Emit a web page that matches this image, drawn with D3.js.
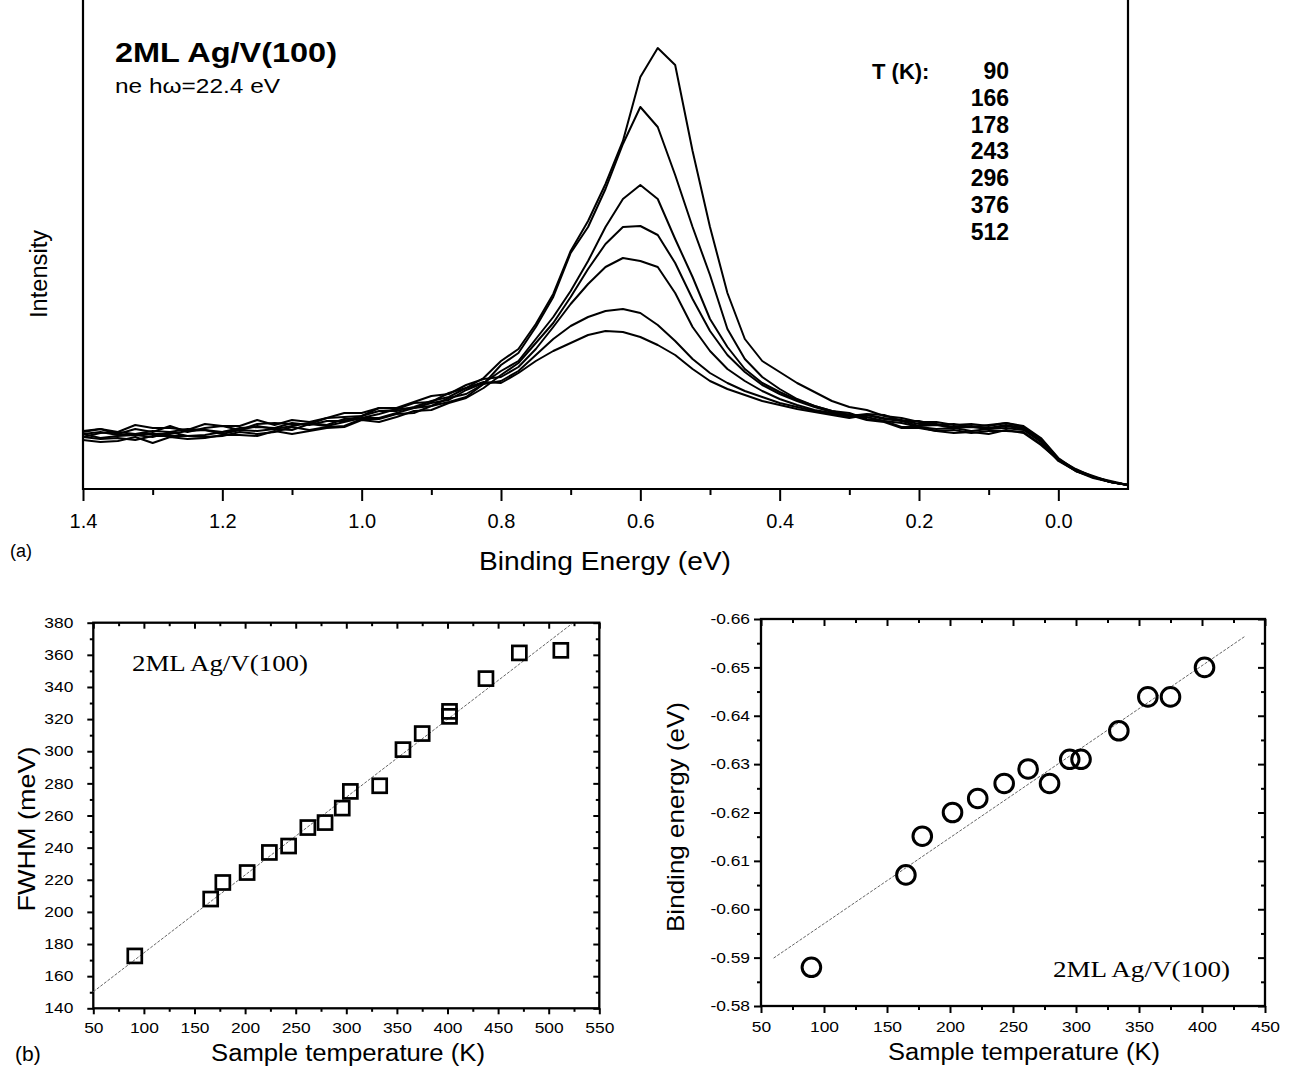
<!DOCTYPE html>
<html>
<head>
<meta charset="utf-8">
<script src="https://cdn.jsdelivr.net/npm/d3@7"></script>
<style>
  body { margin: 0; background: #fff; }
  svg { display: block; }
  text { font-family: Arial, "Liberation Sans", Helvetica, sans-serif; fill: #000; }
  .serif { font-family: "Times New Roman", "Liberation Serif", serif; }
</style>
</head>
<body>
<svg id="fig" width="1293" height="1071"></svg>
<script>
// ---------- data ----------
// (a) photoemission spectra, binding energy grid (eV)
var energyGrid = [1.4, 1.375, 1.35, 1.325, 1.3, 1.275, 1.25, 1.225, 1.2, 1.175, 1.15, 1.125, 1.1, 1.075, 1.05, 1.025,
    1.0, 0.975, 0.95, 0.925, 0.9, 0.875, 0.85, 0.825, 0.8, 0.775, 0.75, 0.725, 0.7, 0.675, 0.65, 0.625,
    0.6, 0.575, 0.55, 0.525, 0.5, 0.475, 0.45, 0.425, 0.4, 0.375, 0.35, 0.325, 0.3, 0.275, 0.25, 0.225,
    0.2, 0.175, 0.15, 0.125, 0.1, 0.075, 0.05, 0.025, 0.0, -0.025, -0.05, -0.075, -0.1];

// intensity (arb. units) for each temperature, noise included as read
var spec90 = [57, 60, 55, 60, 57, 63, 57, 61, 63, 59, 65, 66, 65, 65, 71, 72, 73, 81, 80, 86, 87, 96, 101, 111,
    128, 140, 165, 195, 238, 268, 305, 348, 412, 441, 424, 338, 262, 196, 150, 128, 117, 106, 97, 88, 82,
    79, 73, 71, 67, 67, 64, 65, 63, 66, 63, 51, 31, 19, 12, 7, 4];
var spec166 = [52, 50, 51, 49, 53, 53, 53, 52, 53, 57, 55, 57, 62, 59, 62, 63, 70, 70, 75, 76, 83, 87, 92, 105,
    124, 136, 162, 192, 236, 262, 300, 345, 382, 362, 314, 262, 214, 160, 130, 112, 100, 90, 83, 78, 76,
    70, 68, 62, 62, 58, 59, 56, 58, 58, 57, 45, 29, 18, 12, 7, 4];
var spec178 = [52, 56, 57, 55, 55, 55, 58, 59, 55, 59, 63, 60, 63, 66, 64, 70, 71, 75, 80, 81, 86, 89, 99, 106,
    118, 128, 150, 172, 198, 228, 262, 290, 304, 290, 250, 212, 170, 142, 120, 106, 97, 89, 83, 78, 74,
    74, 70, 68, 63, 64, 61, 62, 60, 63, 60, 49, 30, 19, 12, 8, 4];
var spec243 = [49, 47, 48, 52, 46, 52, 50, 51, 54, 54, 53, 58, 55, 58, 61, 62, 69, 67, 72, 78, 79, 86, 91, 101,
    114, 126, 146, 166, 192, 220, 245, 262, 263, 254, 226, 190, 158, 134, 117, 104, 95, 88, 82, 77, 74,
    69, 67, 61, 61, 58, 56, 57, 55, 59, 56, 44, 29, 19, 13, 7, 4];
var spec296 = [58, 60, 57, 64, 61, 61, 59, 65, 63, 63, 69, 64, 69, 67, 71, 76, 76, 81, 81, 87, 93, 95, 104, 110,
    112, 122, 140, 162, 185, 205, 222, 231, 228, 222, 196, 162, 138, 120, 108, 98, 90, 84, 79, 76, 73,
    75, 74, 68, 68, 64, 65, 62, 64, 66, 62, 50, 30, 20, 12, 7, 4];
var spec376 = [55, 51, 53, 54, 52, 57, 53, 54, 57, 59, 58, 60, 59, 65, 63, 67, 71, 71, 76, 81, 83, 91, 95, 105,
    108, 118, 134, 150, 163, 172, 178, 180, 176, 164, 148, 130, 116, 106, 98, 92, 86, 82, 78, 75, 72,
    72, 68, 66, 62, 60, 61, 58, 60, 61, 59, 47, 28, 18, 12, 7, 4];
var spec512 = [55, 57, 54, 55, 58, 57, 60, 59, 57, 61, 62, 61, 66, 64, 68, 68, 73, 78, 78, 82, 88, 92, 101, 107,
    106, 116, 128, 138, 146, 154, 158, 157, 152, 144, 134, 120, 108, 100, 94, 88, 84, 80, 77, 74, 71,
    74, 71, 69, 65, 65, 62, 63, 61, 64, 61, 48, 29, 18, 11, 7, 4];
var specTemps = [90, 166, 178, 243, 296, 376, 512];
var spectra = [spec90, spec166, spec178, spec243, spec296, spec376, spec512];
var energyTicks = [1.4, 1.2, 1.0, 0.8, 0.6, 0.4, 0.2, 0.0];
var energyMinor = [1.3, 1.1, 0.9, 0.7, 0.5, 0.3, 0.1];

// (b) left: FWHM vs temperature
var fwhmTemps = [91, 166, 178, 202, 224, 243, 262, 279, 296, 304, 333, 356, 375, 402, 402, 438, 471, 512];
var fwhmValues = [172.6, 208, 218.3, 224.5, 237, 241, 252.5, 255.6, 264.6, 275, 278.5, 301, 311, 324.8, 321.7, 345.2, 361.2, 362.8];
var fwhmFitT = [50, 523];
var fwhmFitV = [150.3, 379.4];

// (b) right: binding energy vs temperature
var beTemps = [90, 165, 178, 202, 222, 243, 262, 279, 295, 304, 334, 357, 375, 402];
var beValues = [-0.588, -0.6071, -0.6151, -0.62, -0.6229, -0.626, -0.629, -0.626, -0.631, -0.631, -0.6369, -0.6439, -0.6439, -0.65];
var beFitT = [60, 434];
var beFitV = [-0.5899, -0.6564];

// ---------- drawing ----------
var svg = d3.select("#fig");

// stretch tick labels a bit, the scanned figure is wider than tall
function widenLabels(g, k) {
    g.selectAll(".tick text").each(function () {
        var t = d3.select(this);
        var x = +t.attr("x") || 0;
        t.attr("x", x / k).attr("transform", "scale(" + k + ",1)");
    });
}

// plain hyphen minus like the original
function hyphenFormat(spec) {
    var f = d3.format(spec);
    return function (d) { return f(d).replace("\u2212", "-"); };
}

// ===== panel (a) =====
var a = {left: 83, right: 1128, bottom: 489};
var xA = d3.scaleLinear().domain([1.4, -0.1]).range([a.left, a.right]);
var yA = d3.scaleLinear().domain([0, 460]).range([a.bottom, a.bottom - 460]);

var spectrumLine = d3.line()
    .x(function (d, i) { return xA(energyGrid[i]); })
    .y(function (d) { return yA(d); });

svg.append("g").selectAll("path")
    .data(spectra)
    .join("path")
    .attr("d", spectrumLine)
    .attr("fill", "none")
    .attr("stroke", "#000")
    .attr("stroke-width", 2)
    .attr("stroke-linejoin", "round");

// minor ticks then major ticks with labels
svg.append("g")
    .attr("transform", "translate(0," + a.bottom + ")")
    .call(d3.axisBottom(xA).tickValues(energyMinor).tickSize(6).tickSizeOuter(0).tickFormat(""))
    .call(function (g) { g.select(".domain").remove(); })
    .selectAll("line").attr("stroke-width", 2);

var axA = svg.append("g")
    .attr("transform", "translate(0," + a.bottom + ")")
    .call(d3.axisBottom(xA).tickValues(energyTicks).tickSize(12).tickSizeOuter(0).tickFormat(d3.format(".1f")));
axA.select(".domain").remove();
axA.selectAll("line").attr("stroke-width", 2);
axA.selectAll("text").attr("y", 39).attr("dy", null).attr("font-size", 20);

// frame (open at top)
svg.append("path")
    .attr("d", "M" + a.left + ",0V" + a.bottom + "H" + a.right + "V0")
    .attr("fill", "none")
    .attr("stroke", "#000")
    .attr("stroke-width", 2.2);

svg.append("text").attr("x", 115).attr("y", 62)
    .attr("font-size", 28).attr("font-weight", "bold")
    .attr("textLength", 222).attr("lengthAdjust", "spacingAndGlyphs")
    .text("2ML Ag/V(100)");
svg.append("text").attr("x", 115).attr("y", 93)
    .attr("font-size", 20)
    .attr("textLength", 165).attr("lengthAdjust", "spacingAndGlyphs")
    .text("ne hω=22.4 eV");

svg.append("text").attr("x", 872).attr("y", 79)
    .attr("font-size", 22).attr("font-weight", "bold")
    .text("T (K):");
svg.append("g").selectAll("text")
    .data(specTemps)
    .join("text")
    .attr("x", 1009)
    .attr("y", function (d, i) { return 79 + i * 26.8; })
    .attr("text-anchor", "end")
    .attr("font-size", 23).attr("font-weight", "bold")
    .text(function (d) { return d; });

svg.append("text")
    .attr("transform", "translate(47,274) rotate(-90)")
    .attr("text-anchor", "middle")
    .attr("font-size", 23)
    .attr("textLength", 88).attr("lengthAdjust", "spacingAndGlyphs")
    .text("Intensity");
svg.append("text").attr("x", 605).attr("y", 570)
    .attr("text-anchor", "middle")
    .attr("font-size", 25)
    .attr("textLength", 252).attr("lengthAdjust", "spacingAndGlyphs")
    .text("Binding Energy (eV)");
svg.append("text").attr("x", 10).attr("y", 557)
    .attr("font-size", 18)
    .text("(a)");

// ===== framed scatter panels (b) =====
function framedPanel(box, x, y, opt) {
    var g = svg.append("g");

    // inward minor+major ticks on top and right
    g.append("g").attr("transform", "translate(0," + box.top + ")")
        .call(d3.axisBottom(x).tickValues(opt.xMinor).tickSize(opt.minor).tickFormat(""));
    g.append("g").attr("transform", "translate(0," + box.top + ")")
        .call(d3.axisBottom(x).tickValues(opt.xMajor).tickSize(opt.major).tickFormat(""));
    g.append("g").attr("transform", "translate(" + box.right + ",0)")
        .call(d3.axisLeft(y).tickValues(opt.yMinor).tickSize(opt.minor).tickFormat(""));
    g.append("g").attr("transform", "translate(" + box.right + ",0)")
        .call(d3.axisLeft(y).tickValues(opt.yMajor).tickSize(opt.major).tickFormat(""));

    // outward ticks on bottom and left
    g.append("g").attr("transform", "translate(0," + box.bottom + ")")
        .call(d3.axisBottom(x).tickValues(opt.xMinor).tickSize(opt.minor).tickFormat(""));
    var bx = g.append("g").attr("transform", "translate(0," + box.bottom + ")")
        .call(d3.axisBottom(x).tickValues(opt.xMajor).tickSize(opt.major).tickFormat(d3.format("d")));
    bx.selectAll("text").attr("y", opt.xLabelY).attr("dy", null);

    g.append("g").attr("transform", "translate(" + box.left + ",0)")
        .call(d3.axisLeft(y).tickValues(opt.yMinor).tickSize(opt.minor).tickFormat(""));
    var ly = g.append("g").attr("transform", "translate(" + box.left + ",0)")
        .call(d3.axisLeft(y).tickValues(opt.yMajor).tickSize(opt.major).tickFormat(opt.yFormat));
    ly.selectAll("text").attr("x", -opt.yLabelGap);

    g.selectAll(".domain").remove();
    g.selectAll(".tick line").attr("stroke-width", 2);
    g.selectAll(".tick text").attr("font-size", 14.5);
    widenLabels(g, 1.2);

    g.append("rect")
        .attr("x", box.left).attr("y", box.top)
        .attr("width", box.right - box.left).attr("height", box.bottom - box.top)
        .attr("fill", "none").attr("stroke", "#000").attr("stroke-width", 2.3);
    return g;
}

// left: FWHM
var bL = {left: 93.3, right: 599.3, top: 622.7, bottom: 1008.3};
var xL = d3.scaleLinear().domain([50, 550]).range([bL.left, bL.right]);
var yL = d3.scaleLinear().domain([140, 380]).range([bL.bottom, bL.top]);
framedPanel(bL, xL, yL, {
    xMajor: d3.range(50, 551, 50), xMinor: d3.range(75, 550, 50),
    yMajor: d3.range(140, 381, 20), yMinor: d3.range(150, 380, 20),
    major: 6, minor: 3.5, xLabelY: 25, yLabelGap: 20, yFormat: d3.format("d")
});

svg.append("path")
    .datum(fwhmFitT)
    .attr("d", d3.line().x(function (d) { return xL(d); }).y(function (d, i) { return yL(fwhmFitV[i]); }))
    .attr("stroke", "#666").attr("stroke-width", 1).attr("stroke-dasharray", "3,1.5").attr("fill", "none");

svg.append("g").selectAll("rect")
    .data(fwhmTemps)
    .join("rect")
    .attr("x", function (d) { return xL(d) - 7; })
    .attr("y", function (d, i) { return yL(fwhmValues[i]) - 7; })
    .attr("width", 14).attr("height", 14)
    .attr("fill", "none").attr("stroke", "#000").attr("stroke-width", 2.7);

svg.append("text").attr("class", "serif")
    .attr("x", 132).attr("y", 671)
    .attr("font-size", 24)
    .attr("textLength", 176).attr("lengthAdjust", "spacingAndGlyphs")
    .text("2ML Ag/V(100)");
svg.append("text")
    .attr("transform", "translate(35,829) rotate(-90)")
    .attr("text-anchor", "middle")
    .attr("font-size", 24)
    .attr("textLength", 165).attr("lengthAdjust", "spacingAndGlyphs")
    .text("FWHM (meV)");
svg.append("text").attr("x", 348).attr("y", 1061)
    .attr("text-anchor", "middle")
    .attr("font-size", 23)
    .attr("textLength", 274).attr("lengthAdjust", "spacingAndGlyphs")
    .text("Sample temperature (K)");
svg.append("text").attr("x", 15).attr("y", 1061)
    .attr("font-size", 21)
    .text("(b)");

// right: binding energy
var bR = {left: 761, right: 1265, top: 619, bottom: 1006};
var xR = d3.scaleLinear().domain([50, 450]).range([bR.left, bR.right]);
var yR = d3.scaleLinear().domain([-0.58, -0.66]).range([bR.bottom, bR.top]);
framedPanel(bR, xR, yR, {
    xMajor: d3.range(50, 451, 50), xMinor: d3.range(75, 450, 50),
    yMajor: [-0.58, -0.59, -0.6, -0.61, -0.62, -0.63, -0.64, -0.65, -0.66],
    yMinor: [-0.585, -0.595, -0.605, -0.615, -0.625, -0.635, -0.645, -0.655],
    major: 7, minor: 4, xLabelY: 26, yLabelGap: 11, yFormat: hyphenFormat(".2f")
});

svg.append("path")
    .datum(beFitT)
    .attr("d", d3.line().x(function (d) { return xR(d); }).y(function (d, i) { return yR(beFitV[i]); }))
    .attr("stroke", "#666").attr("stroke-width", 1).attr("stroke-dasharray", "3,1.5").attr("fill", "none");

svg.append("g").selectAll("circle")
    .data(beTemps)
    .join("circle")
    .attr("cx", function (d) { return xR(d); })
    .attr("cy", function (d, i) { return yR(beValues[i]); })
    .attr("r", 9.3)
    .attr("fill", "none").attr("stroke", "#000").attr("stroke-width", 3);

svg.append("text").attr("class", "serif")
    .attr("x", 1053).attr("y", 977)
    .attr("font-size", 24)
    .attr("textLength", 177).attr("lengthAdjust", "spacingAndGlyphs")
    .text("2ML Ag/V(100)");
svg.append("text")
    .attr("transform", "translate(684,817) rotate(-90)")
    .attr("text-anchor", "middle")
    .attr("font-size", 24)
    .attr("textLength", 230).attr("lengthAdjust", "spacingAndGlyphs")
    .text("Binding energy (eV)");
svg.append("text").attr("x", 1024).attr("y", 1060)
    .attr("text-anchor", "middle")
    .attr("font-size", 23)
    .attr("textLength", 272).attr("lengthAdjust", "spacingAndGlyphs")
    .text("Sample temperature (K)");
</script>
</body>
</html>
